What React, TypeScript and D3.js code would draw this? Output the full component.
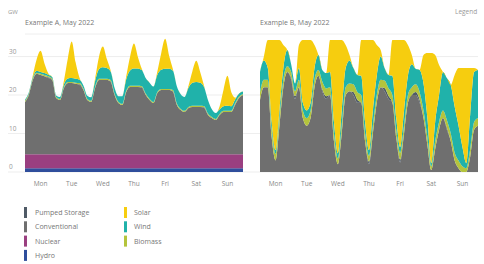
import React from "react";
import * as d3 from "d3";

const DAYS = ["Mon", "Tue", "Wed", "Thu", "Fri", "Sat", "Sun"];
const Y_TICKS = [0, 10, 20, 30];
const STACK_KEYS = ["Hydro", "Nuclear", "Conventional", "Pumped Storage", "Biomass", "Wind", "Solar"];
const LEGEND_LEFT = ["Pumped Storage", "Conventional", "Nuclear", "Hydro"];
const LEGEND_RIGHT = ["Solar", "Wind", "Biomass"];
const TITLES = ["Example A, May 2022", "Example B, May 2022"];
const UNIT = "GW";
const TOP_RIGHT = "Legend";
const COLORS: Record<string, string> = {
  Hydro: "#2f4e9c",
  Nuclear: "#9a3f80",
  Conventional: "#6f6f6f",
  "Pumped Storage": "#4f5a66",
  Biomass: "#b4c43c",
  Wind: "#20b2aa",
  Solar: "#f6cd0f",
};

// 3-hourly values, Mon 00:00 .. Sun 24:00 (57 points)
const A_HYDRO = [
  1.0, 1.0, 1.0, 1.0, 1.0, 1.0, 1.0, 1.0,
  1.0, 1.0, 1.0, 1.0, 1.0, 1.0, 1.0, 1.0,
  1.0, 1.0, 1.0, 1.0, 1.0, 1.0, 1.0, 1.0,
  1.0, 1.0, 1.0, 1.0, 1.0, 1.0, 1.0, 1.0,
  1.0, 1.0, 1.0, 1.0, 1.0, 1.0, 1.0, 1.0,
  1.0, 1.0, 1.0, 1.0, 1.0, 1.0, 1.0, 1.0,
  1.0, 1.0, 1.0, 1.0, 1.0, 1.0, 1.0, 1.0, 1.0,
];
const A_NUCLEAR = [
  3.6, 3.6, 3.6, 3.6, 3.6, 3.6, 3.6, 3.6,
  3.6, 3.6, 3.6, 3.6, 3.6, 3.6, 3.6, 3.6,
  3.6, 3.6, 3.6, 3.6, 3.6, 3.6, 3.6, 3.6,
  3.6, 3.6, 3.6, 3.6, 3.6, 3.6, 3.6, 3.6,
  3.6, 3.6, 3.6, 3.6, 3.6, 3.6, 3.6, 3.6,
  3.6, 3.6, 3.6, 3.6, 3.6, 3.6, 3.6, 3.6,
  3.6, 3.6, 3.6, 3.6, 3.6, 3.6, 3.6, 3.6, 3.6,
];
const A_CONV = [
  13.6, 15.5, 19.3, 20.9, 20.6, 20.3, 19.8, 19.3,
  14.6, 14.1, 17.2, 18.5, 18.5, 18.3, 18.0, 16.7,
  14.1, 13.6, 17.2, 19.3, 19.3, 19.3, 18.8, 15.4,
  13.3, 12.8, 16.2, 17.5, 17.5, 17.5, 17.2, 15.4,
  14.1, 13.3, 15.9, 16.7, 16.7, 16.7, 16.2, 12.8,
  11.5, 11.0, 12.0, 12.3, 12.3, 12.3, 12.0, 10.2,
  9.4, 8.9, 10.2, 11.0, 11.0, 11.0, 12.8, 14.6, 15.4,
];
const A_PUMPED = [
  0, 0, 0, 0, 0, 0, 0.2, 0.1,
  0, 0, 0, 0, 0, 0, 0.2, 0.1,
  0, 0, 0, 0, 0, 0, 0.2, 0.1,
  0, 0, 0, 0, 0, 0, 0.2, 0.1,
  0, 0, 0, 0, 0, 0, 0.2, 0.1,
  0, 0, 0, 0, 0, 0, 0.2, 0.1,
  0, 0, 0, 0, 0, 0, 0.2, 0.1, 0,
];
const A_BIO = [
  0.3, 0.3, 0.3, 0.3, 0.3, 0.3, 0.3, 0.3,
  0.3, 0.3, 0.3, 0.3, 0.3, 0.3, 0.3, 0.3,
  0.3, 0.3, 0.3, 0.3, 0.3, 0.3, 0.3, 0.3,
  0.3, 0.3, 0.3, 0.3, 0.3, 0.3, 0.3, 0.3,
  0.3, 0.3, 0.3, 0.3, 0.3, 0.3, 0.3, 0.3,
  0.3, 0.3, 0.3, 0.3, 0.3, 0.3, 0.3, 0.3,
  0.3, 0.3, 0.3, 0.3, 0.3, 0.3, 0.3, 0.3, 0.3,
];
const A_WIND = [
  0.3, 0.3, 0.4, 0.5, 0.5, 0.5, 0.4, 0.4,
  0.4, 0.5, 0.7, 0.9, 1.0, 1.0, 0.9, 0.8,
  0.8, 0.9, 1.5, 2.5, 3.0, 2.8, 2.2, 1.5,
  1.5, 2.0, 3.0, 4.0, 4.5, 4.5, 4.2, 4.0,
  4.2, 4.0, 4.5, 5.0, 5.2, 5.2, 5.0, 4.5,
  3.8, 3.6, 5.0, 6.0, 6.2, 6.0, 5.0, 3.5,
  2.0, 1.5, 1.2, 1.2, 1.3, 1.2, 1.0, 0.8, 0.6,
];
const A_SOLAR = [
  0, 0, 0.5, 3.0, 5.5, 2.5, 0.3, 0,
  0, 0, 0.9, 5.2, 9.5, 4.3, 0.5, 0,
  0, 0, 0.6, 3.2, 5.4, 2.4, 0.3, 0,
  0, 0, 0.7, 3.6, 6.5, 3.0, 0.3, 0,
  0, 0, 0.8, 4.3, 7.8, 3.5, 0.4, 0,
  0, 0, 0.5, 3.0, 5.5, 2.8, 0.3, 0,
  0, 0, 0.8, 4.3, 7.8, 3.6, 0.4, 0, 0,
];

const B_HYDRO = [
  0, 0, 0, 0, 0, 0, 0, 0,
  0, 0, 0, 0, 0, 0, 0, 0,
  0, 0, 0, 0, 0, 0, 0, 0,
  0, 0, 0, 0, 0, 0, 0, 0,
  0, 0, 0, 0, 0, 0, 0, 0,
  0, 0, 0, 0, 0, 0, 0, 0,
  0, 0, 0, 0, 0, 0, 0, 0, 0,
];
const B_NUCLEAR = [
  0, 0, 0, 0, 0, 0, 0, 0,
  0, 0, 0, 0, 0, 0, 0, 0,
  0, 0, 0, 0, 0, 0, 0, 0,
  0, 0, 0, 0, 0, 0, 0, 0,
  0, 0, 0, 0, 0, 0, 0, 0,
  0, 0, 0, 0, 0, 0, 0, 0,
  0, 0, 0, 0, 0, 0, 0, 0, 0,
];
const B_CONV = [
  18.7, 22, 22, 9, 3, 12, 22, 26,
  24, 19, 22, 14, 12, 14, 22, 25,
  21, 19, 20, 8, 2, 10, 20, 21,
  20, 18, 18, 8, 2, 10, 18, 22,
  21, 19, 18, 9, 2.5, 10, 18, 20,
  20, 18, 14, 7, 0.5, 6, 11, 14,
  11, 8, 3, 1, 0, 0, 4, 11, 12,
];
const B_PUMPED = [
  0, 0, 0, 0, 0, 0, 0, 0,
  0.5, 0.7, 0, 0, 0, 0, 0, 0,
  0.5, 0.7, 0, 0, 0, 0, 0, 0,
  0.8, 0.8, 0, 0, 0.7, 0, 0, 0,
  0.8, 0.8, 0, 0, 0.7, 0, 0, 0,
  0.8, 0.8, 0, 0, 0, 0, 0, 0,
  0.5, 0, 0, 0, 0, 0, 0, 0, 0,
];
const B_BIO = [
  2, 2, 2, 2, 1.7, 2, 2, 1.5,
  1.5, 1.3, 2, 2, 2, 2, 2, 1.5,
  2, 2, 2, 2, 1.5, 2, 2, 2,
  2, 2, 2, 2, 1.5, 2, 2, 2,
  2, 2, 2, 2, 1.8, 2, 2, 2,
  2, 2, 2, 2, 1, 2, 2, 2,
  2, 2, 2, 2, 1.5, 1, 2, 2, 2,
];
const B_WIND = [
  5.3, 5, 3, 2, 1, 2, 3, 4.2,
  2, 2, 3, 2, 2, 2, 3, 3.9,
  3, 4, 4, 3, 1.4, 4, 5, 6,
  4.2, 4.4, 5, 3, 1.5, 4, 5, 6,
  3.2, 3.4, 5, 3, 1.5, 4, 5, 6,
  4, 5.7, 7, 5, 0.8, 5, 7, 10,
  10.9, 12.6, 12, 9, 5, 1.3, 9, 13, 12.5,
];
const B_SOLAR = [
  0, 1, 7.3, 21.3, 28.6, 18.3, 6, 0,
  0, 0, 6, 16.3, 18.3, 16.3, 6, 0,
  0, 0, 8.3, 21.3, 29.4, 18.3, 6, 1.4,
  0, 0, 9.3, 21.3, 28.6, 18.3, 8, 1.7,
  0, 0, 9.3, 20.3, 27.8, 18.3, 8, 2.4,
  0, 0, 7.4, 16.9, 28.6, 17.4, 7.8, 0,
  0, 0, 8.2, 15, 20.5, 24.7, 12, 1, 0,
];

const HOURS = d3.range(0, 169, 3);

type Row = { hour: number; [k: string]: number };

function buildRows(s: Record<string, number[]>): Row[] {
  return HOURS.map((h, i) => {
    const r: Row = { hour: h };
    STACK_KEYS.forEach((k) => (r[k] = s[k][i]));
    return r;
  });
}

const ROWS_A = buildRows({
  Hydro: A_HYDRO,
  Nuclear: A_NUCLEAR,
  Conventional: A_CONV,
  "Pumped Storage": A_PUMPED,
  Biomass: A_BIO,
  Wind: A_WIND,
  Solar: A_SOLAR,
});
const ROWS_B = buildRows({
  Hydro: B_HYDRO,
  Nuclear: B_NUCLEAR,
  Conventional: B_CONV,
  "Pumped Storage": B_PUMPED,
  Biomass: B_BIO,
  Wind: B_WIND,
  Solar: B_SOLAR,
});

const W = 484;
const H = 264;
const PLOT_TOP = 40;
const PLOT_BOTTOM = 172;
const FONT = "Open Sans, Roboto, sans-serif";

const y = d3.scaleLinear().domain([0, 34.3]).range([PLOT_BOTTOM, PLOT_TOP]);

function Panel({ rows, x0, x1, title }: { rows: Row[]; x0: number; x1: number; title: string }) {
  const x = d3.scaleLinear().domain([0, 168]).range([x0, x1]);
  const stack = d3.stack<Row>().keys(STACK_KEYS);
  const series = stack(rows);
  const area = d3
    .area<d3.SeriesPoint<Row>>()
    .x((d) => x(d.data.hour))
    .y0((d) => y(d[0]))
    .y1((d) => y(d[1]))
    .curve(d3.curveMonotoneX);
  const dayW = (x1 - x0) / 7;
  return (
    <g>
      <text x={x0} y={25} fontSize={7} fill="#777" fontFamily={FONT}>
        {title}
      </text>
      {series.map((s) => (
        <path key={s.key} d={area(s) || ""} fill={COLORS[s.key]} />
      ))}
      {DAYS.map((d, i) => (
        <text
          key={d}
          x={x0 + dayW * (i + 0.5)}
          y={186}
          fontSize={6.5}
          fill="#888"
          textAnchor="middle"
          fontFamily={FONT}
        >
          {d}
        </text>
      ))}
    </g>
  );
}

export default function App() {
  return (
    <svg
      width={W}
      height={H}
      style={{ position: "absolute", left: 0, top: 0, background: "#fff" }}
    >
      <text x={8} y={14} fontSize={6} fill="#999" fontFamily={FONT}>
        {UNIT}
      </text>
      <text x={455} y={14} fontSize={6.5} fill="#999" fontFamily={FONT}>
        {TOP_RIGHT}
      </text>
      <line x1={25} x2={480} y1={34} y2={34} stroke="#eeeeee" strokeWidth={1} />
      {Y_TICKS.map((t) => (
        <g key={t}>
          <line x1={8} x2={478} y1={y(t)} y2={y(t)} stroke="#e8e8e8" strokeWidth={0.8} />
          <text x={9} y={y(t) - 3} fontSize={6.5} fill="#999" fontFamily={FONT}>
            {t}
          </text>
        </g>
      ))}
      <Panel rows={ROWS_A} x0={25} x1={243} title={TITLES[0]} />
      <Panel rows={ROWS_B} x0={260} x1={478} title={TITLES[1]} />
      {LEGEND_LEFT.map((k, i) => (
        <g key={k}>
          <rect x={24} y={207 + i * 14.3} width={3} height={11} fill={COLORS[k]} />
          <text x={35} y={215 + i * 14.3} fontSize={7} fill="#777" fontFamily={FONT}>
            {k}
          </text>
        </g>
      ))}
      {LEGEND_RIGHT.map((k, i) => (
        <g key={k}>
          <rect x={124} y={207 + i * 14.3} width={3} height={11} fill={COLORS[k]} />
          <text x={134} y={215 + i * 14.3} fontSize={7} fill="#777" fontFamily={FONT}>
            {k}
          </text>
        </g>
      ))}
    </svg>
  );
}
